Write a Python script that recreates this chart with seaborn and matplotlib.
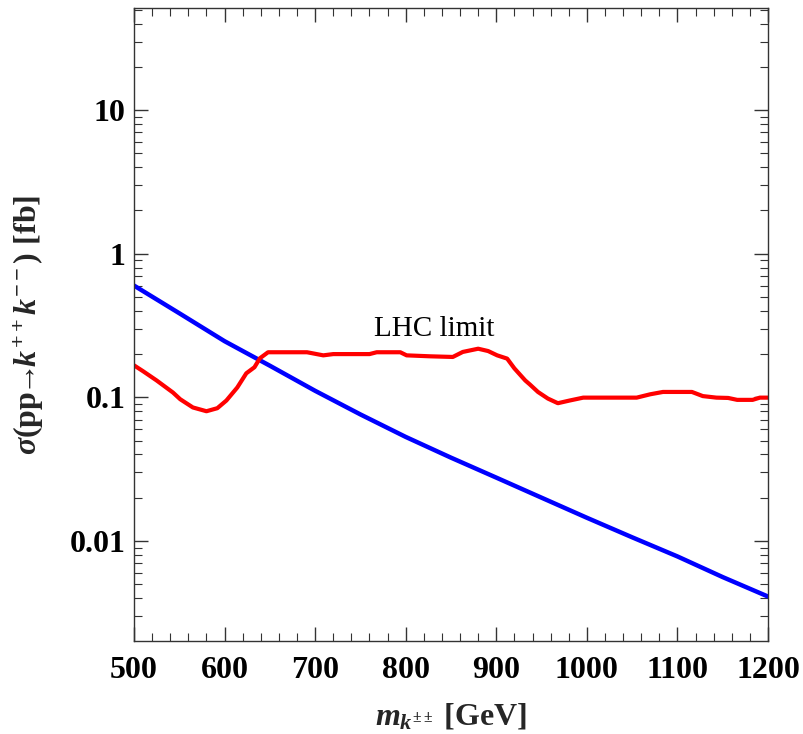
import numpy as np
import pandas as pd
import matplotlib
matplotlib.use("Agg")
import matplotlib.pyplot as plt
import seaborn as sns
from matplotlib.ticker import FixedLocator, FixedFormatter, LogLocator, MultipleLocator, NullFormatter

# ---- data ----
blue_mass = [500, 550, 600, 650, 700, 750, 800, 850, 900, 950, 1000, 1050, 1100, 1150, 1200]
blue_xsec = [0.60, 0.385, 0.246, 0.166, 0.111, 0.076, 0.053, 0.038, 0.0276, 0.020, 0.0145,
             0.0106, 0.0078, 0.0056, 0.0041]

red_mass = [500, 510, 525, 543, 551, 565, 580, 592, 602, 614, 624, 633, 639, 648, 691, 709, 720,
            760, 768, 794, 801, 827, 852, 863, 880, 891, 901, 912, 920, 932, 937, 946, 957, 968,
            981, 996, 1055, 1070, 1084, 1116, 1128, 1143, 1156, 1166, 1183, 1191, 1200]
red_xsec = [0.167, 0.152, 0.131, 0.108, 0.097, 0.085, 0.080, 0.084, 0.095, 0.117, 0.147, 0.162,
            0.187, 0.206, 0.206, 0.196, 0.200, 0.200, 0.206, 0.206, 0.196, 0.193, 0.191, 0.207,
            0.218, 0.210, 0.196, 0.186, 0.159, 0.131, 0.123, 0.109, 0.098, 0.091, 0.095, 0.0995,
            0.0995, 0.105, 0.109, 0.109, 0.102, 0.0995, 0.099, 0.096, 0.096, 0.0995, 0.0995]

x_ticks = [500, 600, 700, 800, 900, 1000, 1100, 1200]
y_ticks = [0.01, 0.1, 1, 10]
y_tick_labels = ["0.01", "0.1", "1", "10"]
annotation = "LHC limit"

# ---- style ----
sns.set_style("white")
plt.rcParams["font.family"] = ["Liberation Serif", "DejaVu Serif"]
plt.rcParams["mathtext.fontset"] = "custom"
plt.rcParams["mathtext.rm"] = "Liberation Serif:bold"
plt.rcParams["mathtext.bf"] = "Liberation Serif:bold"
plt.rcParams["mathtext.it"] = "Liberation Serif:italic:bold"

fig = plt.figure(figsize=(8.04, 7.34), dpi=100)
ax = fig.add_axes([134 / 804, 1 - 641 / 734, (768 - 134) / 804, (641 - 8) / 734])

df_blue = pd.DataFrame({"m": blue_mass, "s": blue_xsec})
df_red = pd.DataFrame({"m": red_mass, "s": red_xsec})

sns.lineplot(data=df_blue, x="m", y="s", ax=ax, color=(0, 0, 1), linewidth=3.2,
             estimator=None, sort=False)
sns.lineplot(data=df_red, x="m", y="s", ax=ax, color=(1, 0, 0), linewidth=3.0,
             estimator=None, sort=False)

ax.set_yscale("log")
ax.set_xlim(500, 1200)
ax.set_ylim(0.00201, 51.4)

ax.xaxis.set_major_locator(FixedLocator(x_ticks))
ax.xaxis.set_minor_locator(MultipleLocator(20))
ax.yaxis.set_major_locator(FixedLocator(y_ticks))
ax.yaxis.set_major_formatter(FixedFormatter(y_tick_labels))
ax.yaxis.set_minor_locator(LogLocator(base=10, subs=np.arange(2, 10), numticks=20))
ax.yaxis.set_minor_formatter(NullFormatter())

for lab in ax.get_xticklabels() + ax.get_yticklabels():
    lab.set_fontweight("bold")
    lab.set_fontsize(23)

ax.tick_params(which="both", direction="in", top=True, right=True, bottom=True, left=True,
               colors="#333333")
ax.tick_params(which="major", length=10, width=1.0)
ax.tick_params(which="minor", length=5.5, width=0.8)
ax.tick_params(axis="x", which="major", pad=11, labelcolor="black")
ax.tick_params(axis="y", which="major", pad=6, labelcolor="black")

for sp in ax.spines.values():
    sp.set_color("#333333")
    sp.set_linewidth(1.0)
    sp.set_visible(True)

ax.set_xlabel(r"$m_{k^{\pm\pm}}$ [GeV]", fontsize=23, fontweight="bold", labelpad=12)
ax.set_ylabel(r"$\sigma(\mathrm{pp}\!\!\rightarrow\!\! k^{++}k^{--})\ \mathrm{[fb]}$",
              fontsize=23, fontweight="bold")
ax.yaxis.set_label_coords((46 - 134) / 634, 0.5)

ax.text(831, 0.30, annotation, fontsize=21, ha="center", va="center", color="black")

fig.savefig("out.png", dpi=100)
